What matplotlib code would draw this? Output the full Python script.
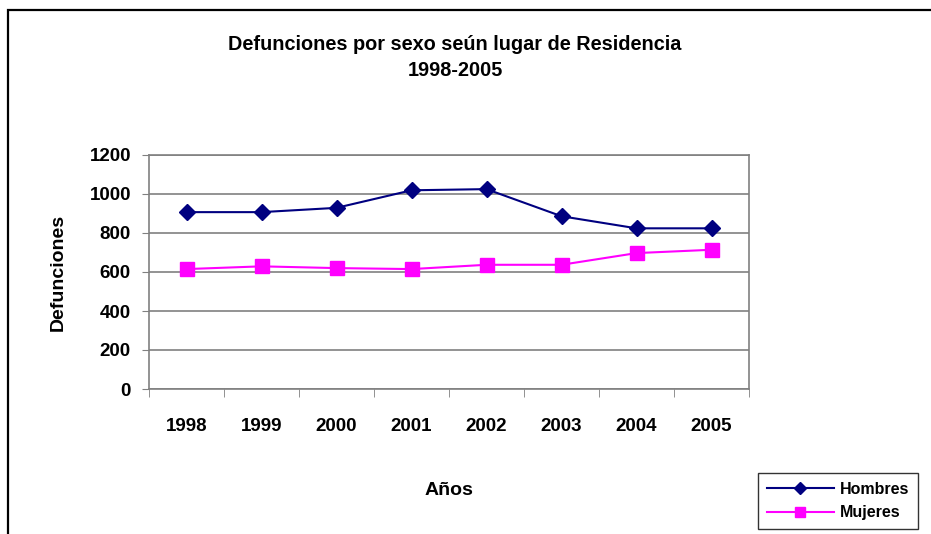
import matplotlib.pyplot as plt
from matplotlib.patches import Rectangle

# ==========================
# DATA
# ==========================
years = ["1998", "1999", "2000", "2001", "2002", "2003", "2004", "2005"]
hombres = [907, 907, 929, 1019, 1025, 886, 824, 824]
mujeres = [615, 629, 620, 615, 637, 637, 697, 714]
y_ticks = [0, 200, 400, 600, 800, 1000, 1200]

plt.rcParams["font.family"] = ["Liberation Sans", "DejaVu Sans"]

fig = plt.figure(figsize=(9.31, 5.34), dpi=100)

# outer chart frame (partly cut off at right and bottom)
fig.patches.append(Rectangle((8 / 931, -0.1), 1.2, 1 - 10 / 534 + 0.1,
                             transform=fig.transFigure, fill=False,
                             edgecolor="black", linewidth=1.6))

ax = fig.add_axes([149 / 931, 1 - 389 / 534, 600 / 931, 234 / 534])

x = list(range(len(years)))
ax.plot(x, hombres, color="#000080", marker="D", markersize=8.5,
        linewidth=1.5, label="Hombres")
ax.plot(x, mujeres, color="#FF00FF", marker="s", markersize=10,
        linewidth=1.5, label="Mujeres")

ax.set_xlim(-0.5, len(years) - 0.5)
ax.set_ylim(0, 1200)
ax.set_yticks(y_ticks)
ax.set_yticklabels([str(v) for v in y_ticks], fontsize=13.5, fontweight="bold")
ax.set_xticks(x)
ax.set_xticklabels(years, fontsize=13.5, fontweight="bold")
ax.tick_params(axis="x", length=0, pad=21)
ax.tick_params(axis="y", length=5, color="#808080", pad=8)
ax.set_xticks([i - 0.5 for i in range(len(years) + 1)], minor=True)
ax.tick_params(axis="x", which="minor", length=6, color="#808080")

ax.grid(axis="y", color="#808080", linewidth=1.2)
ax.set_axisbelow(True)
for side in ["top", "right", "left", "bottom"]:
    ax.spines[side].set_color("#808080")
    ax.spines[side].set_linewidth(1.2)

ax.set_ylabel("Defunciones", fontsize=14, fontweight="bold", labelpad=16)
ax.set_xlabel("Años", fontsize=14, fontweight="bold", labelpad=34)

fig.text(455 / 931, 1 - 45 / 534, "Defunciones por sexo seún lugar de Residencia",
         ha="center", va="center", fontsize=14.3, fontweight="bold")
fig.text(455 / 931, 1 - 71 / 534, "1998-2005",
         ha="center", va="center", fontsize=14.3, fontweight="bold")

leg = fig.legend(loc="center", bbox_to_anchor=(838 / 931, 1 - 501 / 534),
                 frameon=True, fancybox=False,
                 prop={"weight": "bold", "size": 11.5},
                 handlelength=4.2, borderpad=0.55, labelspacing=0.55,
                 handletextpad=0.4)
leg.get_frame().set_edgecolor("black")
leg.get_frame().set_linewidth(1.0)
for h in leg.legend_handles:
    h.set_markersize(6.5)

fig.savefig("out.png", dpi=100)
